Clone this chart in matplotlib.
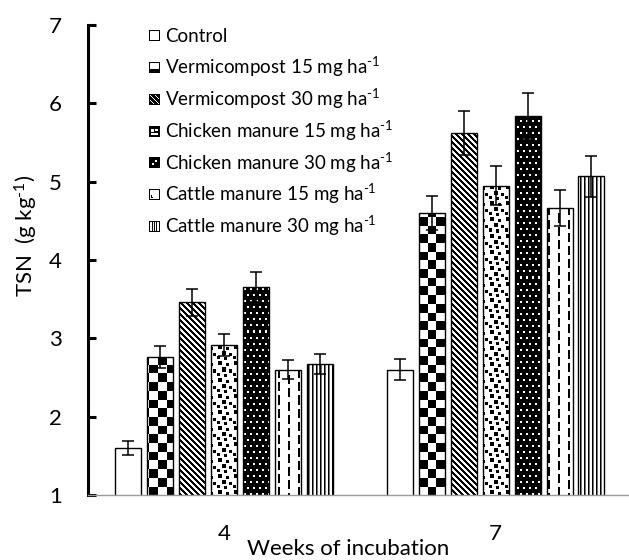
import numpy as np
import matplotlib
matplotlib.use('Agg')
import matplotlib.pyplot as plt

# ---------------- data ----------------
weeks = ['4', '7']
series_labels = ['Control',
                 r'Vermicompost 15 mg ha$^{\text{-1}}$',
                 r'Vermicompost 30 mg ha$^{\text{-1}}$',
                 r'Chicken manure 15 mg ha$^{\text{-1}}$',
                 r'Chicken manure 30 mg ha$^{\text{-1}}$',
                 r'Cattle manure 15 mg ha$^{\text{-1}}$',
                 r'Cattle manure 30 mg ha$^{\text{-1}}$']
control = [1.60, 2.60]
vermi15 = [2.76, 4.60]
vermi30 = [3.46, 5.62]
chicken15 = [2.92, 4.95]
chicken30 = [3.66, 5.84]
cattle15 = [2.60, 4.67]
cattle30 = [2.67, 5.07]
control_err = [0.09, 0.13]
vermi15_err = [0.14, 0.22]
vermi30_err = [0.17, 0.28]
chicken15_err = [0.14, 0.25]
chicken30_err = [0.19, 0.29]
cattle15_err = [0.12, 0.23]
cattle30_err = [0.13, 0.26]
yticks = [1, 2, 3, 4, 5, 6, 7]

values = [control, vermi15, vermi30, chicken15, chicken30, cattle15, cattle30]
errors = [control_err, vermi15_err, vermi30_err, chicken15_err, chicken30_err,
          cattle15_err, cattle30_err]
kinds = ['plain', 'checker', 'diag', 'confetti', 'dots', 'dashes', 'vlines']

# ---------------- style ----------------
plt.rcParams['font.family'] = ['Lato', 'DejaVu Sans']
plt.rcParams['mathtext.fontset'] = 'custom'
plt.rcParams['mathtext.rm'] = 'Lato'
plt.rcParams['mathtext.it'] = 'Lato:italic'
plt.rcParams['mathtext.bf'] = 'Lato:bold'
plt.rcParams['mathtext.default'] = 'regular'

FW, FH = 629, 560
fig = plt.figure(figsize=(FW / 100, FH / 100), dpi=100)
AX_L, AX_R, AX_T, AX_B = 88, 628, 25, 495   # pixel box (from top)
ax = fig.add_axes([AX_L / FW, (FH - AX_B) / FH, (AX_R - AX_L) / FW, (AX_B - AX_T) / FH])
W, H = AX_R - AX_L, AX_B - AX_T

xlim = (-0.502, 1.488)
ylim = (1, 7)


def pattern(kind, H, W):
    i, j = np.mgrid[0:H, 0:W]
    if kind == 'plain':
        return np.ones((H, W))
    if kind == 'checker':
        return ((np.floor(i / 8.7) + np.floor(j / 8.7)) % 2).astype(float)
    if kind == 'diag':
        return (((j - i) % 6) >= 3).astype(float)
    if kind == 'confetti':
        tile = np.ones((16, 16))
        for r, c, s in [(1, 2, 4), (3, 10, 3), (7, 6, 4), (9, 13, 3),
                        (12, 1, 3), (13, 8, 3)]:
            tile[r:r + s, c:c + s] = 0
        return np.tile(tile, (H // 16 + 1, W // 16 + 1))[:H, :W]
    if kind == 'dots':
        a = np.zeros((H, W))
        shift = 3 * ((i // 6) % 2)
        a[((i % 6) < 2) & (((j + shift) % 6) < 2)] = 1
        return a
    if kind == 'dashes':
        col = j % 10
        off = 6 * ((j // 10) % 2)
        return np.where((col < 2) & (((i + off) % 13) < 9), 0., 1.)
    if kind == 'vlines':
        a = np.ones((H, W))
        a[j % 4 == 0] = 0
        a[j % 4 == 1] = 0.45
        return a
    return np.ones((H, W))


x = np.arange(len(weeks))
pitch = 0.1178
width = 0.0958
n = len(values)
for k, (vals, errs, kind) in enumerate(zip(values, errors, kinds)):
    pos = x + (k - (n - 1) / 2) * pitch
    bars = ax.bar(pos, vals, width, facecolor='none', edgecolor='black',
                  linewidth=1.0, zorder=3)
    arr = pattern(kind, H, W)
    for b in bars:
        im = ax.imshow(arr, extent=(xlim[0], xlim[1], ylim[0], ylim[1]),
                       origin='upper', cmap='gray', vmin=0, vmax=1,
                       interpolation='nearest', aspect='auto', zorder=2)
        im.set_clip_path(b)
    ax.errorbar(pos, vals, yerr=errs, fmt='none', ecolor='black',
                elinewidth=1.1, capsize=4.6, capthick=1.1, zorder=5)

ax.set_xlim(*xlim)
ax.set_ylim(*ylim)
ax.set_yticks(yticks)
ax.set_xticks(x)
ax.set_xticklabels(weeks)

for s in ['top', 'right']:
    ax.spines[s].set_visible(False)
ax.spines['left'].set_linewidth(2.2)
ax.spines['left'].set_color('black')
ax.spines['bottom'].set_linewidth(1.0)
ax.spines['bottom'].set_color('#9a9a9a')
ax.spines['bottom'].set_zorder(6)

ax.tick_params(axis='y', direction='in', length=6, width=2.2, pad=19,
               labelsize=16, colors='black')
ax.tick_params(axis='x', length=0, pad=21, labelsize=16)

ax.set_ylabel(r'TSN  (g kg$^{\text{-1}}$)', fontsize=16)
ax.yaxis.set_label_coords(-(AX_L - 13) / W, (AX_B - 236) / H)
ax.yaxis.label.set_va('top')
ax.set_xlabel('Weeks of incubation', fontsize=16, va='baseline')
ax.xaxis.set_label_coords((348 - AX_L) / W, -(555 - AX_B) / H)

# ---------------- legend (manual, pixel-placed) ----------------
icons = {}
b = np.ones((11, 11)); b[0, :] = b[-1, :] = b[:, 0] = b[:, -1] = 0
icons['plain'] = b.copy()
a = b.copy(); a[7:10, 1:10] = 0; icons['checker'] = a
a = np.zeros((11, 11))
ii, jj = np.mgrid[0:11, 0:11]
a[((jj - ii) % 5 == 0) & (ii > 0) & (ii < 10) & (jj > 0) & (jj < 10)] = 1
icons['diag'] = a
a = np.zeros((11, 11)); a[3:6, 2:5] = 1; a[3:5, 6:9] = 1; a[7:9, 2:9] = 1
icons['confetti'] = a
a = np.zeros((11, 11)); a[3:5, 6:8] = 1; a[6:8, 3:5] = 1
icons['dots'] = a
a = b.copy(); a[6:9, 2] = 0; a[8, 2:4] = 0
icons['dashes'] = a
a = b.copy(); a[1:10, 3] = 0; a[1:10, 5] = 0; a[1:10, 7] = 0
icons['vlines'] = a

row0, dy = 35.7, 31.8
for k, (lab, kind) in enumerate(zip(series_labels, kinds)):
    yc = row0 + k * dy
    fig.figimage(icons[kind], xo=149, yo=int(round(FH - yc - 5.5)),
                 cmap='gray', vmin=0, vmax=1, origin='upper', zorder=10)
    fig.text(165 / FW, 1 - (yc + 6.5) / FH, lab, fontsize=13.5,
             ha='left', va='baseline')

fig.savefig('out.png', dpi=100)
